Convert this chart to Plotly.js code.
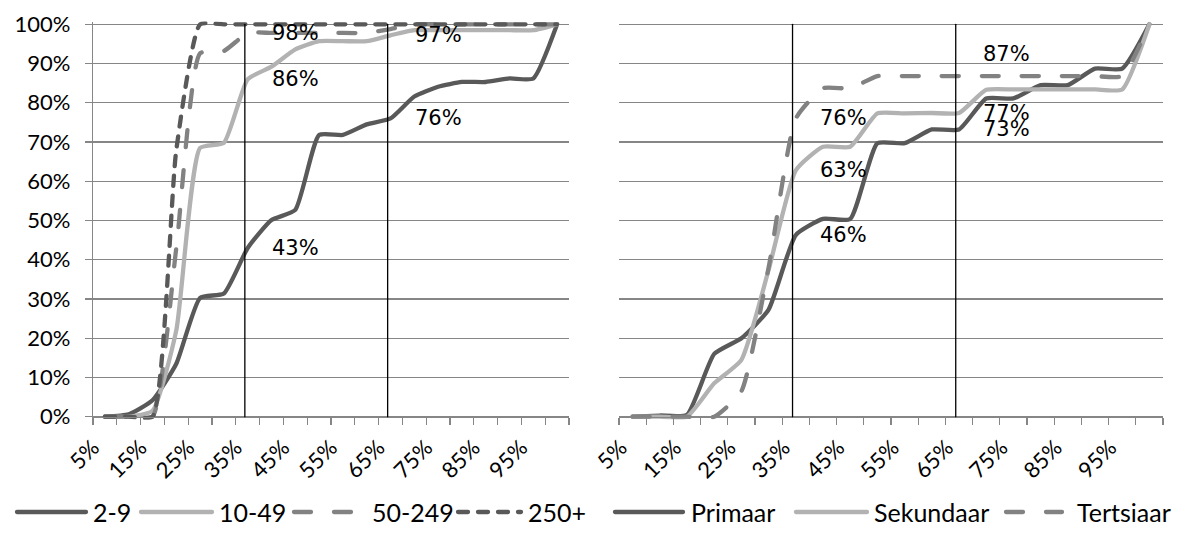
<!DOCTYPE html>
<html>
<head>
<meta charset="utf-8">
<script src="https://cdn.plot.ly/plotly-3.0.1.min.js"></script>
<style>
html,body{margin:0;padding:0;background:#ffffff;}
#chart{width:1184px;height:538px;}
.js-line{stroke-linecap:round;}
.shapelayer path{stroke-linecap:round;}
</style>
</head>
<body>
<div id="chart"></div>
<script>
// ---- data ----
const categories = ['5%','10%','15%','20%','25%','30%','35%','40%','45%','50%','55%','60%','65%','70%','75%','80%','85%','90%','95%','100%'];
const tickLabels = ['5%','','15%','','25%','','35%','','45%','','55%','','65%','','75%','','85%','','95%',''];
const yTickVals   = [0, 10, 20, 30, 40, 50, 60, 70, 80, 90, 100];
const yTickLabels = ['0%','10%','20%','30%','40%','50%','60%','70%','80%','90%','100%'];

// left panel: size classes
const size2_9    = [0, 0.6, 4.2, 13.5, 30.3, 31.4, 43.0, 50.1, 52.7, 71.8, 71.8, 74.5, 76.0, 81.6, 84.1, 85.3, 85.3, 86.2, 86.2, 100];
const size10_49  = [0, 0, 1.5, 22.0, 68.5, 69.8, 86.0, 89.2, 93.6, 95.7, 95.7, 95.7, 97.2, 98.5, 98.5, 98.5, 98.5, 98.5, 98.5, 100];
const size50_249 = [0, 0, 0, 43.0, 92.6, 93.2, 97.8, 97.8, 97.8, 97.8, 97.8, 97.8, 98.8, 100, 100, 100, 100, 100, 100, 100];
const size250    = [0, 0, 0, 68.0, 100, 100, 100, 100, 100, 100, 100, 100, 100, 100, 100, 100, 100, 100, 100, 100];

// right panel: sectors
const primaar    = [0, 0.3, 0.5, 16.0, 20.0, 27.3, 46.3, 50.4, 50.4, 69.7, 69.7, 73.2, 73.2, 81.1, 81.1, 84.5, 84.5, 88.7, 88.7, 100];
const sekundaar  = [0, 0, 0, 8.5, 14.5, 37.4, 62.8, 68.8, 68.8, 77.3, 77.3, 77.4, 77.4, 83.3, 83.4, 83.4, 83.4, 83.4, 83.4, 100];
const tertsiaar  = [0, 0, 0, 0, 6.5, 38.0, 76.0, 83.7, 83.7, 86.8, 86.8, 86.8, 86.8, 86.8, 86.8, 86.8, 86.8, 86.8, 86.8, 100];

const leftNames  = ['2-9', '10-49', '50-249', '250+'];
const rightNames = ['Primaar', 'Sekundaar', 'Tertsiaar'];
const markerCats = ['35%', '65%'];
const leftLabelled  = [[0,'35%'],[0,'65%'],[1,'35%'],[1,'65%'],[2,'35%']];
const rightLabelled = [[0,'35%'],[0,'65%'],[1,'35%'],[1,'65%'],[2,'35%'],[2,'65%']];

// ---- styles ----
const W = 1184, H = 538;
const DARK = '#595959', LIGHT = '#b2b2b2', MID = '#828282', GRID = '#868686';
const LONGDASH = '17px,23px', SHORTDASH = '10px,10px';
const leftSeries  = [size2_9, size10_49, size50_249, size250];
const rightSeries = [primaar, sekundaar, tertsiaar];
const leftStyle  = [
  {color: DARK,  dash: 'solid'},
  {color: LIGHT, dash: 'solid'},
  {color: MID,   dash: LONGDASH},
  {color: DARK,  dash: SHORTDASH}
];
const rightStyle = [
  {color: DARK,  dash: 'solid'},
  {color: LIGHT, dash: 'solid'},
  {color: MID,   dash: LONGDASH}
];
const LW = 4.3;
const FAM = 'Lato, "Open Sans", sans-serif';
const xTickFont = {family: FAM, size: 22, color: '#000'};
const yTickFont = {family: FAM, size: 22, color: '#000'};
const legFont  = {family: FAM, size: 25, color: '#000'};
const annFont  = {family: '"DejaVu Sans", sans-serif', size: 21, color: '#000'};

// legend entry placement (pixels): [line start, line end, text start]
const leftLegendPos  = [[17, 86, 91], [141, 212, 217], [294, 361, 370], [458, 521, 526]];
const rightLegendPos = [[615, 683, 689], [796, 867, 872], [1006, 1062, 1075]];
const legendY = 512;

const traces = [];
leftSeries.forEach((s, i) => traces.push({
  type: 'scatter', mode: 'lines', x: categories, y: s, name: leftNames[i],
  xaxis: 'x', yaxis: 'y', showlegend: false,
  line: {color: leftStyle[i].color, dash: leftStyle[i].dash, width: LW, shape: 'spline', smoothing: 0.5},
  hoverinfo: 'skip'
}));
rightSeries.forEach((s, i) => traces.push({
  type: 'scatter', mode: 'lines', x: categories, y: s, name: rightNames[i],
  xaxis: 'x2', yaxis: 'y2', showlegend: false,
  line: {color: rightStyle[i].color, dash: rightStyle[i].dash, width: LW, shape: 'spline', smoothing: 0.5},
  hoverinfo: 'skip'
}));

// geometry
const yTopPx = 24.3, yBotPx = 416.7;
const pad = 0.7;
const pxPer = (yBotPx - yTopPx) / 100;
const yDom = [1 - (yBotPx + pad * pxPer) / H, 1 - (yTopPx - pad * pxPer) / H];
const xAxisPos = 1 - yBotPx / H;

function xAx(domain) {
  return {
    domain: domain, type: 'category', categoryorder: 'array', categoryarray: categories,
    range: [-0.5, categories.length - 0.5],
    anchor: 'free', position: xAxisPos,
    tickmode: 'array', tickvals: categories, ticktext: tickLabels, tickson: 'boundaries',
    ticks: 'outside', ticklen: 7, tickwidth: 1.3, tickcolor: GRID,
    showline: true, linecolor: GRID, linewidth: 1.3,
    showgrid: false, zeroline: false, tickangle: -45, tickfont: xTickFont,
    ticklabelstandoff: 8, ticklabelshift: -12, automargin: false, fixedrange: true
  };
}
function yAx(anchor, labels) {
  return {
    domain: yDom, anchor: anchor, range: [-pad, 100 + pad],
    tickmode: 'array', tickvals: yTickVals, ticktext: yTickLabels,
    showticklabels: labels, tickfont: yTickFont,
    ticks: labels ? 'outside' : '', ticklen: 7, tickwidth: 1.3, tickcolor: GRID,
    showline: labels, linecolor: GRID, linewidth: 1.3,
    showgrid: true, gridcolor: GRID, gridwidth: 1.3, zeroline: false,
    ticklabelstandoff: 10, automargin: false, fixedrange: true
  };
}

const shapes = [];
markerCats.forEach(c => {
  [['x','y'],['x2','y2']].forEach(([xr, yr]) => {
    shapes.push({type: 'line', xref: xr, yref: yr, x0: c, x1: c, x0shift: -0.12, x1shift: -0.12,
      y0: 0, y1: 100, line: {color: '#000', width: 1.3}});
  });
});

const annotations = [];
function addLabels(list, series, xr, yr) {
  list.forEach(([si, cat]) => {
    const v = series[si][categories.indexOf(cat)];
    const above = (xr === 'x2' && si === 2 && cat === '65%');
    annotations.push({
      xref: xr, yref: yr, x: cat, y: v, text: Math.round(v) + '%',
      showarrow: false, xanchor: 'left', yanchor: 'middle', xshift: 22, yshift: above ? 22 : 0,
      font: annFont
    });
  });
}
addLabels(leftLabelled, leftSeries, 'x', 'y');
addLabels(rightLabelled, rightSeries, 'x2', 'y2');

// Excel-style legends (long line samples) under each panel
function addLegend(names, styles, pos) {
  names.forEach((n, i) => {
    const [a, b, t] = pos[i];
    shapes.push({type: 'line', xref: 'paper', yref: 'paper',
      x0: a / W, x1: b / W, y0: 1 - legendY / H, y1: 1 - legendY / H,
      line: {color: styles[i].color, dash: styles[i].dash, width: LW}});
    annotations.push({xref: 'paper', yref: 'paper', x: t / W, y: 1 - legendY / H,
      xanchor: 'left', yanchor: 'middle', showarrow: false, text: n, font: legFont});
  });
}
addLegend(leftNames, leftStyle, leftLegendPos);
addLegend(rightNames, rightStyle, rightLegendPos);

const layout = {
  width: W, height: H,
  margin: {l: 0, r: 0, t: 0, b: 0, pad: 0},
  paper_bgcolor: '#fff', plot_bgcolor: '#fff',
  showlegend: false,
  xaxis: xAx([93 / W, 569 / W]),
  yaxis: yAx('x', true),
  xaxis2: xAx([619 / W, 1163 / W]),
  yaxis2: yAx('x2', false),
  shapes: shapes,
  annotations: annotations
};

Plotly.newPlot('chart', traces, layout, {staticPlot: true, displayModeBar: false});
</script>
</body>
</html>
